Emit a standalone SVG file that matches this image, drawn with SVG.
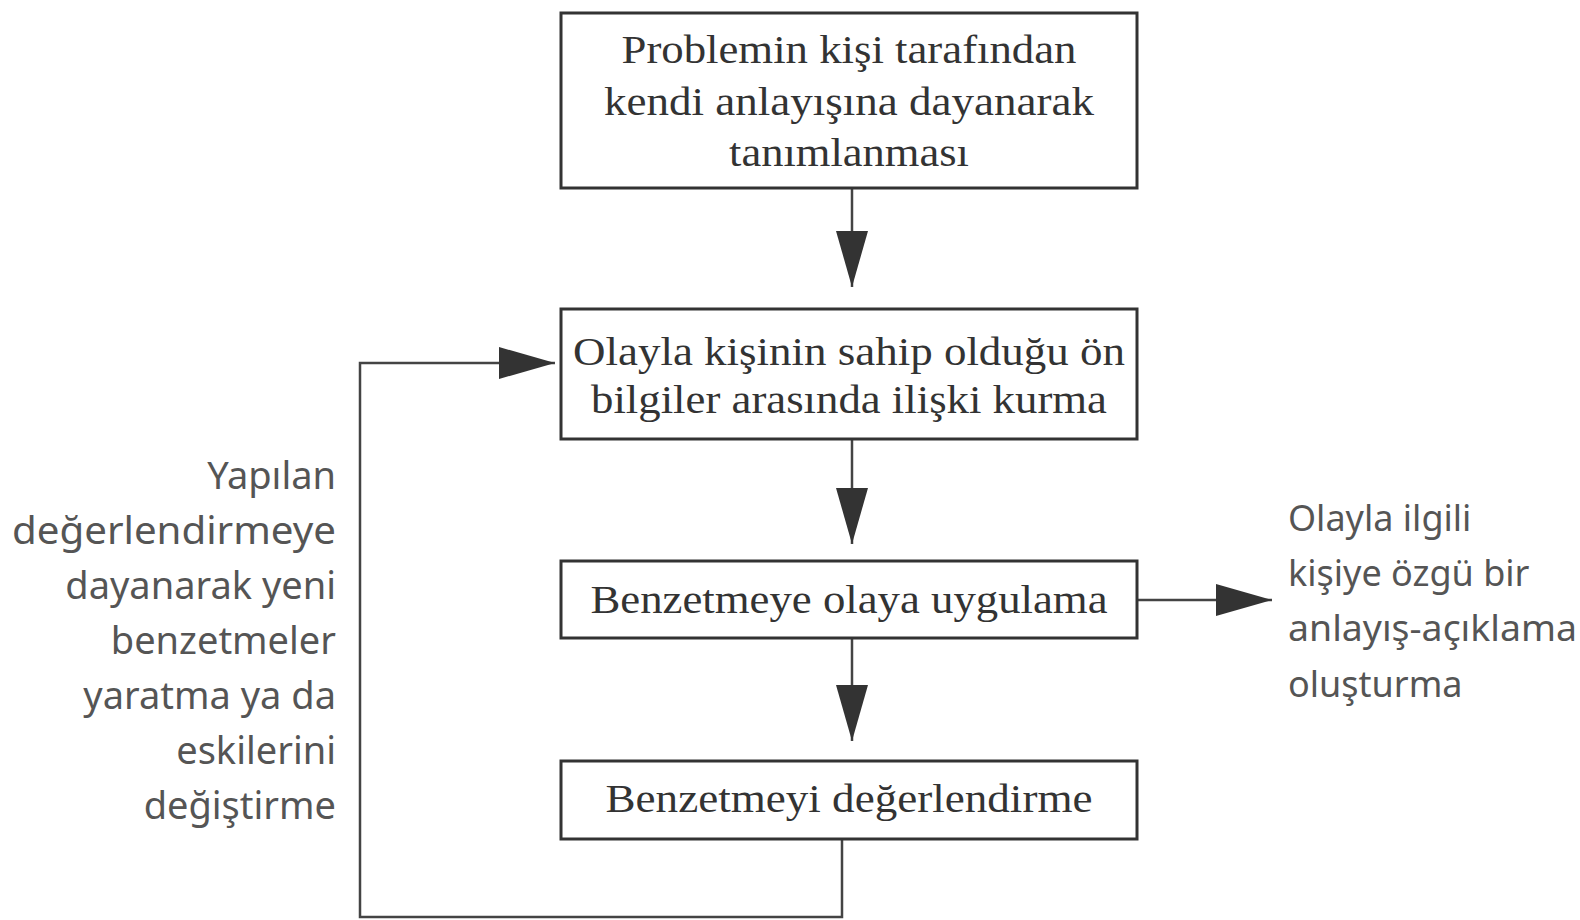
<svg xmlns="http://www.w3.org/2000/svg" width="1580" height="920" viewBox="0 0 1580 920">
<style>
.box{fill:#fff;stroke:#333;stroke-width:3}
.bt{font-family:"Liberation Serif","DejaVu Serif",serif;font-size:40px;fill:#333;text-anchor:middle}
.st{font-family:"Noto Sans","Liberation Sans",sans-serif;font-size:38px;fill:#555}
.con{fill:none;stroke:#444;stroke-width:2.5}
</style>
<defs>
<marker id="ah" viewBox="0 0 56 32" refX="56" refY="16" markerWidth="56" markerHeight="32" markerUnits="userSpaceOnUse" orient="auto">
<path d="M0,0 L56,16 L0,32 z" fill="#333"/>
</marker>
</defs>
<rect width="1580" height="920" fill="#fff"/>
<g id="connectors">
<path class="con" d="M852,188 V287" marker-end="url(#ah)"/>
<path class="con" d="M852,439 V544" marker-end="url(#ah)"/>
<path class="con" d="M852,638 V741" marker-end="url(#ah)"/>
<path class="con" d="M842,839 V917 H360 V363 H555" marker-end="url(#ah)"/>
<path class="con" d="M1137,600 H1272" marker-end="url(#ah)"/>
</g>
<g id="n1">
<rect class="box" x="561" y="13" width="576" height="175"/>
<text class="bt" x="849" y="63" textLength="455" lengthAdjust="spacingAndGlyphs">Problemin kişi tarafından</text>
<text class="bt" x="849" y="115" textLength="490" lengthAdjust="spacingAndGlyphs">kendi anlayışına dayanarak</text>
<text class="bt" x="849" y="166" textLength="240" lengthAdjust="spacingAndGlyphs">tanımlanması</text>
</g>
<g id="n2">
<rect class="box" x="561" y="309" width="576" height="130"/>
<text class="bt" x="849" y="365" textLength="552" lengthAdjust="spacingAndGlyphs">Olayla kişinin sahip olduğu ön</text>
<text class="bt" x="849" y="413" textLength="516" lengthAdjust="spacingAndGlyphs">bilgiler arasında ilişki kurma</text>
</g>
<g id="n3">
<rect class="box" x="561" y="561" width="576" height="77"/>
<text class="bt" x="849" y="613" textLength="517" lengthAdjust="spacingAndGlyphs">Benzetmeye olaya uygulama</text>
</g>
<g id="n4">
<rect class="box" x="561" y="761" width="576" height="78"/>
<text class="bt" x="849" y="812" textLength="487" lengthAdjust="spacingAndGlyphs">Benzetmeyi değerlendirme</text>
</g>
<g id="left-label" text-anchor="end">
<text class="st" x="336" y="489">Yapılan</text>
<text class="st" x="336" y="544" textLength="324" lengthAdjust="spacingAndGlyphs">değerlendirmeye</text>
<text class="st" x="336" y="599">dayanarak yeni</text>
<text class="st" x="336" y="654">benzetmeler</text>
<text class="st" x="336" y="709">yaratma ya da</text>
<text class="st" x="336" y="764">eskilerini</text>
<text class="st" x="336" y="819">değiştirme</text>
</g>
<g id="right-label">
<text class="st" x="1288" y="531" style="font-size:36px">Olayla ilgili</text>
<text class="st" x="1288" y="586" style="font-size:36px">kişiye özgü bir</text>
<text class="st" x="1288" y="641" style="font-size:36px" textLength="289" lengthAdjust="spacingAndGlyphs">anlayış-açıklama</text>
<text class="st" x="1288" y="697" style="font-size:36px">oluşturma</text>
</g>
</svg>
